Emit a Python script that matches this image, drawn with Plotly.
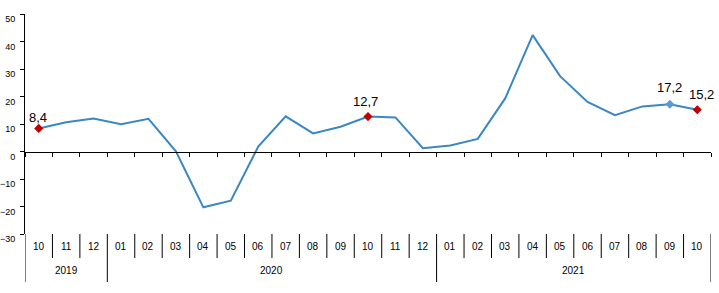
import plotly.graph_objects as go

years = ["2019"] * 3 + ["2020"] * 12 + ["2021"] * 10
months = ["10", "11", "12",
          "01", "02", "03", "04", "05", "06", "07", "08", "09", "10", "11", "12",
          "01", "02", "03", "04", "05", "06", "07", "08", "09", "10"]
values = [8.4, 10.6, 12.0,
          9.9, 11.9, 0.1, -20.3, -17.9, 1.8, 12.8, 6.6, 9.0, 12.7, 12.4, 1.2,
          2.2, 4.6, 19.3, 42.3, 27.4, 18.0, 13.2, 16.4, 17.2, 15.2]
highlight_idx = [0, 12, 23, 24]
highlight_colors = ["#C00000", "#C00000", "#5B9BD5", "#C00000"]
label_yshift = [11, 15, 17, 15]
label_xshift = [-1, -3, 0, 4]
y_ticks = [-30, -20, -10, 0, 10, 20, 30, 40, 50]

W, H = 719, 293
ML, MR, MT, MB = 25, 8, 14, 59
PH = H - MT - MB
ymin, ymax = -30, 50

n = len(values)
xs = list(range(n))

FONT = "Liberation Sans, Arial"

fig = go.Figure()
fig.add_trace(go.Scatter(x=xs, y=values, mode="lines",
                         line=dict(color="#3A87C4", width=2), hoverinfo="skip"))
fig.add_trace(go.Scatter(
    x=[xs[i] for i in highlight_idx], y=[values[i] for i in highlight_idx],
    mode="markers",
    marker=dict(symbol="diamond", size=7, color=highlight_colors),
    hoverinfo="skip"))

annotations = []
for k, i in enumerate(highlight_idx):
    annotations.append(dict(x=xs[i], y=values[i], xref="x", yref="y",
                            text=f"{values[i]:.1f}".replace(".", ","),
                            showarrow=False, yanchor="middle",
                            yshift=label_yshift[k], xshift=label_xshift[k],
                            font=dict(family=FONT, size=13, color="#000")))

# month / year labels and dividers
def py(px_below):
    return -px_below / PH

shapes = []
for i in range(n):
    annotations.append(dict(x=xs[i], y=0, yref="paper", xref="x", text=months[i],
                            showarrow=False, yshift=-12, yanchor="middle",
                            font=dict(family=FONT, size=10, color="#000")))
# boundaries
for b in range(n + 1):
    is_year = b == 0 or b == n or years[b] != years[b - 1]
    shapes.append(dict(type="line", xref="x", yref="paper", x0=b - 0.5, x1=b - 0.5,
                       y0=0, y1=py(48 if is_year else 24),
                       line=dict(color="#000", width=1)))
# year labels
groups = []
for i, yv in enumerate(years):
    if not groups or groups[-1][0] != yv:
        groups.append([yv, i, i])
    else:
        groups[-1][2] = i
for yv, a, b in groups:
    annotations.append(dict(x=(a + b) / 2, y=0, yref="paper", xref="x", text=yv,
                            showarrow=False, yshift=-36, yanchor="middle",
                            font=dict(family=FONT, size=10, color="#000")))

fig.update_layout(
    template="none",
    width=W, height=H, margin=dict(l=ML, r=MR, t=MT, b=MB, autoexpand=False),
    paper_bgcolor="white", plot_bgcolor="white", showlegend=False,
    shapes=shapes, annotations=annotations,
    xaxis=dict(range=[-0.5, n - 0.5], anchor="free",
               position=(0 - ymin) / (ymax - ymin), automargin=False,
               showline=True, linecolor="#000", linewidth=1,
               ticks="outside", ticklen=4, tickcolor="#000", tickwidth=1,
               tickvals=[b - 0.5 for b in range(n + 1)], showticklabels=False,
               showgrid=False, zeroline=False),
    yaxis=dict(range=[ymin, ymax], tickvals=y_ticks, automargin=False,
               showline=True, linecolor="#000", linewidth=1,
               ticks="outside", ticklen=4, tickcolor="#000",
               showgrid=False, zeroline=False, ticklabelshift=5, ticklabelstandoff=3,
               tickfont=dict(family=FONT, size=9, color="#000")),
)
fig.write_html("out.html")
